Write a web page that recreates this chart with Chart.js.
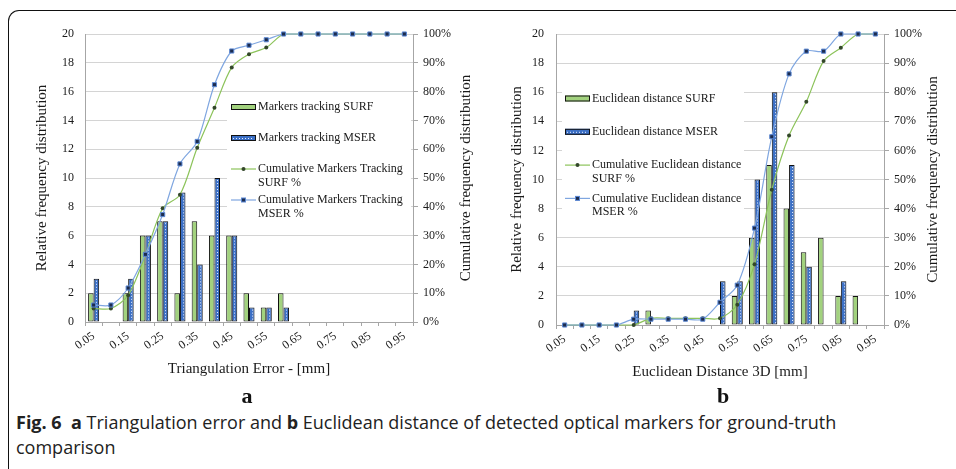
<!DOCTYPE html>
<html>
<head>
<meta charset="utf-8">
<script src="https://cdn.jsdelivr.net/npm/chart.js@4.4.1/dist/chart.umd.min.js"></script>
<style>
  body { margin: 0; background: #fff; }
  #page { position: relative; width: 956px; height: 469px; overflow: hidden; background: #fff; }
  #frame { position: absolute; left: 8px; top: 10px; width: 1000px; height: 500px;
           border-top: 1px solid #111; border-left: 1px solid #111; border-top-left-radius: 11px; }
  canvas { position: absolute; top: 0; }
  .panel { position: absolute; top: 385px; width: 40px; margin-left: -20px; text-align: center;
           font: bold 22px "Liberation Serif"; line-height: 22px; color: #111; }
  #caption { position: absolute; left: 16px; top: 410px; font-size: 18px; line-height: 25px; color: #222;
             font-family: "Open Sans", sans-serif; white-space: nowrap; }
  #caption b { font-weight: 700; }
</style>
</head>
<body>
<div id="page">
  <div id="frame"></div>
  <canvas id="chartA" width="478" height="385" style="left:0"></canvas>
  <canvas id="chartB" width="478" height="385" style="left:478px"></canvas>
  <div class="panel" style="left:247px">a</div>
  <div class="panel" style="left:723px">b</div>
  <div id="caption"><b>Fig. 6</b>&nbsp; <b>a</b> Triangulation error and <b>b</b> Euclidean distance of detected optical markers for ground-truth<br>comparison</div>
</div>
<script>
// Bin centres on the x axis and the ones that get a printed label
const categories = ['0.05', '0.1', '0.15', '0.2', '0.25', '0.3', '0.35', '0.4', '0.45', '0.5',
                    '0.55', '0.6', '0.65', '0.7', '0.75', '0.8', '0.85', '0.9', '0.95'];
const tickLabels = ['0.05', '0.15', '0.25', '0.35', '0.45', '0.55', '0.65', '0.75', '0.85', '0.95'];
const leftTicks = [0, 2, 4, 6, 8, 10, 12, 14, 16, 18, 20];
const rightTicks = [0, 10, 20, 30, 40, 50, 60, 70, 80, 90, 100];

// a: triangulation error
const surfA = [2, 0, 2, 6, 7, 2, 7, 6, 6, 2, 1, 2, 0, 0, 0, 0, 0, 0, 0];
const mserA = [3, 0, 3, 6, 7, 9, 4, 10, 6, 1, 1, 1, 0, 0, 0, 0, 0, 0, 0];
const cumSurfA = [4.7, 4.7, 9.3, 23.3, 39.5, 44.2, 60.5, 74.4, 88.4, 93.0, 95.3, 100, 100, 100, 100, 100, 100, 100, 100];
const cumMserA = [5.9, 5.9, 11.8, 23.5, 37.3, 54.9, 62.7, 82.4, 94.1, 96.1, 98.0, 100, 100, 100, 100, 100, 100, 100, 100];

// b: euclidean distance 3D
const surfB = [0, 0, 0, 0, 0, 1, 0, 0, 0, 0, 2, 6, 11, 8, 5, 6, 2, 2, 0];
const mserB = [0, 0, 0, 0, 1, 0, 0, 0, 0, 3, 3, 10, 16, 11, 4, 0, 3, 0, 0];
const cumSurfB = [0, 0, 0, 0, 0, 2.3, 2.3, 2.3, 2.3, 2.3, 7.0, 20.9, 46.5, 65.1, 76.7, 90.7, 95.3, 100, 100];
const cumMserB = [0, 0, 0, 0, 2.0, 2.0, 2.0, 2.0, 2.0, 7.8, 13.7, 33.3, 64.7, 86.3, 94.1, 94.1, 100, 100, 100];

const GREEN = '#a2d27e', BLUE = '#3c70c6';
const GREEN_LINE = '#8cc35a', BLUE_LINE = '#7fa6e0';
const AXIS = '#a6a6a6', GRID = '#d4d4d4', TEXT = '#1a1a1a';
const SERIF = '"Liberation Serif", "Times New Roman", serif';

Chart.defaults.font.family = SERIF;
Chart.defaults.font.size = 12;
Chart.defaults.color = TEXT;

// word wrap for legend labels
function wrap(ctx, text, maxW) {
  const words = text.split(' ');
  const lines = [];
  let cur = '';
  words.forEach(w => {
    const t = cur ? cur + ' ' + w : w;
    if (ctx.measureText(t).width > maxW && cur) { lines.push(cur); cur = w; }
    else cur = t;
  });
  lines.push(cur);
  return lines;
}

function drawMarker(ctx, style, x, y) {
  if (style === 'rect') {
    ctx.fillStyle = '#1c2c4e';
    ctx.strokeStyle = '#5b88d4';
    ctx.lineWidth = 1;
    ctx.fillRect(x - 2, y - 2, 4, 4);
    ctx.strokeRect(x - 2, y - 2, 4, 4);
  } else {
    ctx.fillStyle = '#33472a';
    ctx.beginPath();
    ctx.arc(x, y, 2, 0, Math.PI * 2);
    ctx.fill();
  }
}

// legend box inside the plot, blue bar stipple, right axis title
const extras = {
  id: 'extras',
  beforeDatasetsDraw(chart, args, opts) {
    const ctx = chart.ctx, L = opts.legend;
    ctx.save();
    ctx.fillStyle = '#fff';
    ctx.fillRect(L.left, L.top, L.right - L.left, L.bottom - L.top);
    ctx.font = '12px ' + SERIF;
    ctx.textBaseline = 'middle';
    let y = L.firstY;
    chart.data.datasets.forEach(ds => {
      const x0 = L.symbolX, x1 = L.symbolX + 25;
      if (ds.type === 'bar') {
        ctx.fillStyle = ds.backgroundColor;
        ctx.fillRect(x0, y - 3, 25, 6);
        ctx.strokeStyle = '#111';
        ctx.lineWidth = 1;
        ctx.strokeRect(x0 + 0.5, y - 2.5, 24, 5);
        if (ds.stipple) {
          ctx.strokeStyle = '#e6eeff';
          ctx.setLineDash([1, 2]);
          ctx.beginPath(); ctx.moveTo(x0 + 2, y + 0.5); ctx.lineTo(x1 - 2, y + 0.5); ctx.stroke();
          ctx.setLineDash([]);
        }
      } else {
        ctx.strokeStyle = ds.borderColor;
        ctx.lineWidth = 1.2;
        ctx.beginPath(); ctx.moveTo(x0, y); ctx.lineTo(x1, y); ctx.stroke();
        drawMarker(ctx, ds.pointStyle, (x0 + x1) / 2, y);
      }
      ctx.fillStyle = TEXT;
      const lines = wrap(ctx, ds.label, L.right - L.textX - 2);
      lines.forEach((t, k) => ctx.fillText(t, L.textX, y + k * 13.5));
      y += L.step;
    });
    ctx.restore();
  },
  afterDatasetDraw(chart, args) {
    const ds = chart.data.datasets[args.index];
    if (!ds.stipple) return;
    const ctx = chart.ctx;
    ctx.save();
    ctx.strokeStyle = '#e6eeff';
    ctx.lineWidth = 1;
    ctx.setLineDash([1, 2]);
    args.meta.data.forEach((bar, i) => {
      if (!ds.data[i]) return;
      const x = Math.round(bar.x) + 0.5;
      ctx.beginPath();
      ctx.moveTo(x, bar.y + 2);
      ctx.lineTo(x, bar.base - 1);
      ctx.stroke();
    });
    ctx.restore();
  },
  afterDraw(chart, args, opts) {
    const ctx = chart.ctx, a = chart.chartArea;
    ctx.save();
    ctx.translate(opts.rightTitleX, (a.top + a.bottom) / 2);
    ctx.rotate(-Math.PI / 2);
    ctx.font = '15px ' + SERIF;
    ctx.fillStyle = TEXT;
    ctx.textAlign = 'center';
    ctx.textBaseline = 'middle';
    ctx.fillText('Cumulative frequency distribution', 0, 0);
    ctx.restore();
  }
};

function makeChart(id, cfg) {
  const tickFont = { family: SERIF, size: 12 };
  const titleFont = { family: SERIF, size: 15 };
  return new Chart(document.getElementById(id), {
    type: 'bar',
    data: {
      labels: categories,
      datasets: [
        { type: 'bar', label: cfg.names[0], data: cfg.surf, backgroundColor: GREEN,
          borderColor: '#111', borderWidth: 1, borderSkipped: false, order: 2,
          categoryPercentage: 0.64, barPercentage: 1.0, yAxisID: 'y' },
        { type: 'bar', label: cfg.names[1], data: cfg.mser, backgroundColor: BLUE, stipple: true,
          borderColor: '#111', borderWidth: 1, borderSkipped: false, order: 2,
          categoryPercentage: 0.64, barPercentage: 1.0, yAxisID: 'y' },
        { type: 'line', label: cfg.names[2], data: cfg.cumSurf, borderColor: GREEN_LINE, borderWidth: 1.2,
          pointStyle: 'circle', pointRadius: 2, pointBackgroundColor: '#33472a', pointBorderWidth: 0,
          tension: 0.3, clip: false, order: 1, yAxisID: 'y1' },
        { type: 'line', label: cfg.names[3], data: cfg.cumMser, borderColor: BLUE_LINE, borderWidth: 1.2,
          pointStyle: 'rect', pointRadius: 2.9, pointBackgroundColor: '#1c2c4e', pointBorderColor: '#5b88d4',
          pointBorderWidth: 1, tension: 0.3, clip: false, order: 0, yAxisID: 'y1' }
      ]
    },
    options: {
      responsive: false,
      animation: false,
      devicePixelRatio: 1,
      layout: { padding: { left: cfg.padLeft, top: 34, right: 0, bottom: cfg.padBottom } },
      plugins: {
        legend: { display: false },
        tooltip: { enabled: false },
        extras: { legend: cfg.legend, rightTitleX: cfg.rightTitleX }
      },
      scales: {
        x: {
          offset: true,
          grid: { offset: true, drawOnChartArea: false, drawTicks: true, tickLength: 4, color: AXIS },
          border: { color: AXIS },
          ticks: {
            font: tickFont, autoSkip: false, minRotation: 35, maxRotation: 35, padding: 3,
            callback: function (v) {
              const c = this.getLabelForValue(v);
              return tickLabels.includes(c) ? c : '';
            }
          },
          title: { display: true, text: cfg.xTitle, font: titleFont, padding: { top: 4, bottom: 4 } },
          afterFit: s => { s.height = 60; }
        },
        y: {
          position: 'left', min: 0, max: 20,
          afterBuildTicks: s => { s.ticks = leftTicks.map(v => ({ value: v })); },
          grid: { color: GRID, drawTicks: false },
          border: { color: AXIS },
          ticks: { font: tickFont, padding: cfg.leftPad },
          title: { display: true, text: 'Relative frequency distribution', font: titleFont, padding: { top: 4, bottom: 4 } },
          afterFit: s => { s.width = cfg.leftW; }
        },
        y1: {
          position: 'right', min: 0, max: 100,
          afterBuildTicks: s => { s.ticks = rightTicks.map(v => ({ value: v })); },
          grid: { drawOnChartArea: false, drawTicks: true, tickLength: 5, color: AXIS },
          border: { color: AXIS },
          ticks: { font: tickFont, padding: 5, callback: v => v + '%' },
          afterFit: s => { s.width = cfg.rightW; }
        }
      }
    },
    plugins: [extras]
  });
}

function build() {
  makeChart('chartA', {
    surf: surfA, mser: mserA, cumSurf: cumSurfA, cumMser: cumMserA,
    names: ['Markers tracking SURF', 'Markers tracking MSER',
            'Cumulative Markers Tracking SURF %', 'Cumulative Markers Tracking MSER %'],
    xTitle: 'Triangulation Error - [mm]',
    padLeft: 29, leftW: 56, rightW: 65, padBottom: 3, leftPad: 11, rightTitleX: 466,
    legend: { left: 227, right: 411, top: 94, bottom: 222, symbolX: 231, textX: 258, firstY: 107, step: 31 }
  });

  makeChart('chartB', {
    surf: surfB, mser: mserB, cumSurf: cumSurfB, cumMser: cumMserB,
    names: ['Euclidean distance SURF', 'Euclidean distance MSER',
            'Cumulative Euclidean distance SURF %', 'Cumulative Euclidean distance MSER %'],
    xTitle: 'Euclidean Distance 3D [mm]',
    padLeft: 26, leftW: 52, rightW: 72, padBottom: 0, leftPad: 12, rightTitleX: 455,
    legend: { left: 84, right: 266, top: 85, bottom: 220, symbolX: 87, textX: 114, firstY: 98.5, step: 33.3 }
  });
}

// make sure the serif face is ready before the canvases are painted
Promise.all([
  document.fonts.load('12px "Liberation Serif"'),
  document.fonts.load('15px "Liberation Serif"')
]).then(build, build);
</script>
</body>
</html>
